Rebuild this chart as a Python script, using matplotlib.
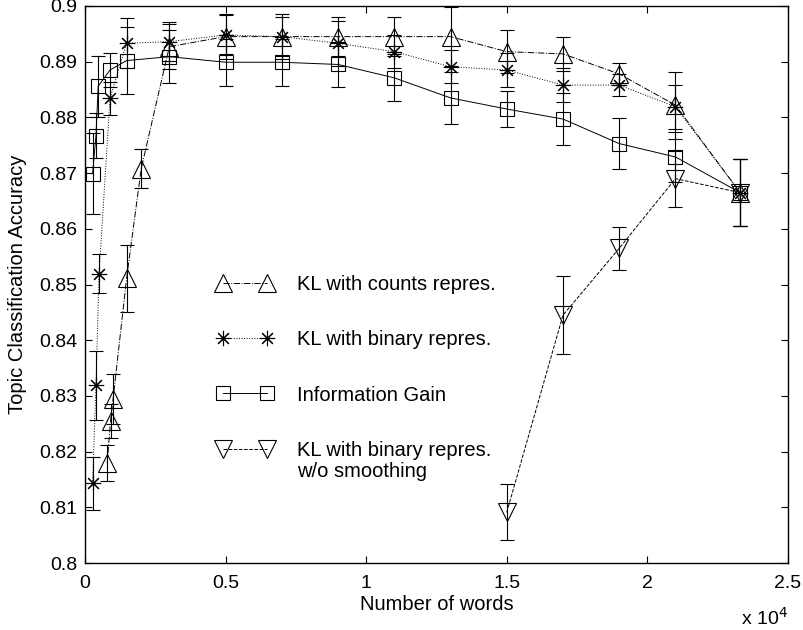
import matplotlib
matplotlib.use("Agg")
import matplotlib.pyplot as plt

plt.rcParams["font.family"] = ["Liberation Sans", "DejaVu Sans"]

# KL divergence, counts representation
counts_x = [790, 910, 1000, 1480, 2000, 3000, 5000, 7000, 9000, 11000, 13000, 15000, 17000, 19000, 21000, 23300]
counts_acc = [0.8179, 0.8255, 0.8295, 0.8511, 0.8708, 0.8927, 0.8945, 0.8945, 0.8945, 0.8945,
              0.8945, 0.8918, 0.8914, 0.8878, 0.8822, 0.8665]
counts_err = [0.0032, 0.0030, 0.0045, 0.0060, 0.0035, 0.0040, 0.0040, 0.0040, 0.0035, 0.0035,
              0.0053, 0.0038, 0.0030, 0.0020, 0.0060, 0.0060]

# KL divergence, binary representation
binary_x = [270, 390, 500, 890, 1480, 3000, 5000, 7000, 9000, 11000, 13000, 15000, 17000, 19000, 21000, 23300]
binary_acc = [0.8143, 0.8319, 0.8519, 0.8834, 0.8933, 0.8936, 0.8948, 0.8945, 0.8933, 0.8918,
              0.8891, 0.8885, 0.8858, 0.8858, 0.8819, 0.8665]
binary_err = [0.0047, 0.0062, 0.0035, 0.0030, 0.0045, 0.0035, 0.0035, 0.0035, 0.0040, 0.0030,
              0.0030, 0.0030, 0.0030, 0.0020, 0.0040, 0.0060]

# information gain
ig_x = [270, 390, 470, 890, 1480, 3000, 5000, 7000, 9000, 11000, 13000, 15000, 17000, 19000, 21000, 23300]
ig_acc = [0.8699, 0.8767, 0.8856, 0.8885, 0.8902, 0.8909, 0.8899, 0.8899, 0.8895, 0.8871,
          0.8835, 0.8815, 0.8797, 0.8753, 0.8729, 0.8665]
ig_err = [0.0073, 0.0040, 0.0055, 0.0030, 0.0060, 0.0048, 0.0042, 0.0042, 0.0040, 0.0042,
          0.0046, 0.0033, 0.0047, 0.0046, 0.0045, 0.0060]

# KL binary without smoothing
nosmooth_x = [15000, 17000, 19000, 21000, 23300]
nosmooth_acc = [0.8091, 0.8445, 0.8565, 0.8690, 0.8665]
nosmooth_err = [0.0050, 0.0070, 0.0039, 0.0050, 0.0060]

xticks = [0, 5000, 10000, 15000, 20000, 25000]
xtick_labels = ["0", "0.5", "1", "1.5", "2", "2.5"]
yticks = [0.80, 0.81, 0.82, 0.83, 0.84, 0.85, 0.86, 0.87, 0.88, 0.89, 0.90]
ytick_labels = ["0.8", "0.81", "0.82", "0.83", "0.84", "0.85", "0.86", "0.87", "0.88", "0.89", "0.9"]

fig = plt.figure(figsize=(8.04, 6.3), dpi=100)
ax = fig.add_axes([0.1057, 0.1063, 0.8743, 0.8842])

common = dict(color="black", mfc="none", mec="black", ecolor="black",
              elinewidth=0.8, capsize=4.7, capthick=0.8, lw=0.7, mew=0.8)

ax.errorbar(counts_x, counts_acc, yerr=counts_err, marker="^", ls="-.", ms=13,
            label="KL with counts repres.", **common)
ax.errorbar(binary_x, binary_acc, yerr=binary_err, marker=(8, 2, 0), ls=":", ms=11,
            label="KL with binary repres.", **common)
ax.errorbar(ig_x, ig_acc, yerr=ig_err, marker="s", ls="-", ms=9.5,
            label="Information Gain", **common)
ax.errorbar(nosmooth_x, nosmooth_acc, yerr=nosmooth_err, marker="v", ls="--", ms=13,
            label="KL with binary repres.", **common)

ax.set_xlim(0, 25000)
ax.set_ylim(0.8, 0.9)
ax.set_xticks(xticks)
ax.set_xticklabels(xtick_labels)
ax.set_yticks(yticks)
ax.set_yticklabels(ytick_labels)
ax.tick_params(direction="in", length=5, width=0.8, top=True, right=True, labelsize=14)
ax.tick_params(axis="y", pad=5.5)
ax.tick_params(axis="x", pad=8.5)
for sp in ax.spines.values():
    sp.set_linewidth(1.0)

ax.set_xlabel("Number of words", fontsize=14.5, labelpad=2)
ax.set_ylabel("Topic Classification Accuracy", fontsize=14.5, labelpad=9)
ax.text(1.0, -0.078, r"x 10$^4$", transform=ax.transAxes, ha="right", va="top", fontsize=14)

handles, labels = ax.get_legend_handles_labels()
handles = [h[0] for h in handles]
leg = ax.legend(handles, labels, loc="upper left", bbox_to_anchor=(0.188, 0.517),
                frameon=False, numpoints=2, handlelength=2.79, handletextpad=1.2,
                labelspacing=1.8, borderpad=0, borderaxespad=0, fontsize=14.5)

# second line of the last legend entry, set under its first line
fig.canvas.draw()
bb = leg.get_texts()[-1].get_window_extent().transformed(fig.transFigure.inverted())
fig.text(bb.x0, bb.y0 - 0.034, "w/o smoothing", fontsize=14.5, ha="left", va="bottom")

fig.savefig("out.png", dpi=100)
